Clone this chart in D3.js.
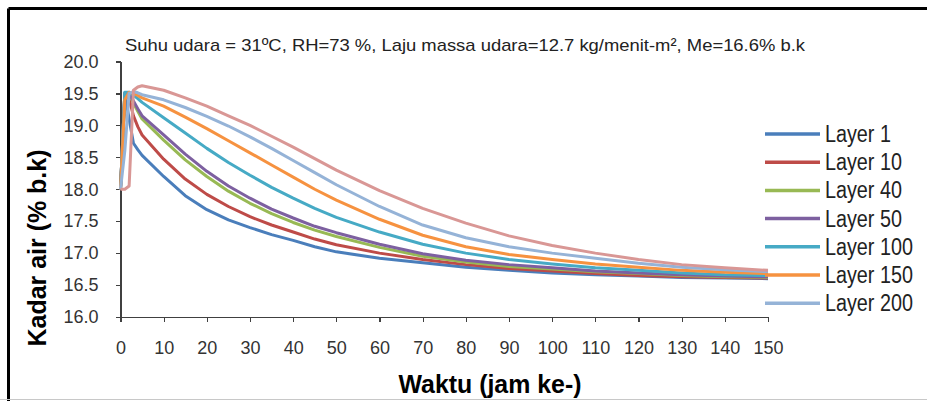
<!DOCTYPE html>
<html>
    <head>
        <meta charset="utf-8">
    </head>
<style>
body {
    margin: 0;
    background: white;
}
.axis path,
.axis line {
    fill: none;
    stroke: #404040;
    stroke-width: 1.2px;
    shape-rendering: crispEdges;
}
.axis text {
    font-family: "Liberation Sans", Arial, sans-serif;
    font-size: 18px;
    fill: #333;
}
</style>
<body>
<script src="https://d3js.org/d3.v7.min.js"></script>
<script>

// time in hours (x values shared by every layer)
var hours = [0, 1, 2, 3, 4, 5, 10, 15, 20, 25, 30, 35, 40, 45, 50, 60, 70, 80, 90, 100, 110, 120, 130, 140, 150];

// moisture content (% b.k) per layer
var layer1   = [18.0, 19.5, 19.1, 18.72, 18.62, 18.53, 18.2, 17.9, 17.68, 17.52, 17.4, 17.29, 17.2, 17.1, 17.02, 16.92, 16.85, 16.78, 16.73, 16.69, 16.66, 16.64, 16.62, 16.61, 16.6];
var layer10  = [18.0, 19.5, 19.42, 19.15, 18.98, 18.85, 18.47, 18.16, 17.92, 17.73, 17.57, 17.44, 17.33, 17.22, 17.13, 17.0, 16.9, 16.82, 16.76, 16.72, 16.68, 16.65, 16.63, 16.62, 16.61];
var layer40  = [18.0, 19.5, 19.5, 19.35, 19.22, 19.1, 18.77, 18.46, 18.2, 17.97, 17.78, 17.62, 17.48, 17.36, 17.26, 17.09, 16.95, 16.86, 16.79, 16.75, 16.71, 16.68, 16.65, 16.63, 16.62];
var layer50  = [18.0, 19.5, 19.5, 19.38, 19.26, 19.15, 18.85, 18.55, 18.28, 18.05, 17.86, 17.69, 17.55, 17.42, 17.32, 17.14, 16.99, 16.89, 16.82, 16.77, 16.72, 16.69, 16.66, 16.64, 16.63];
var layer100 = [18.0, 19.52, 19.52, 19.47, 19.42, 19.36, 19.12, 18.88, 18.64, 18.42, 18.22, 18.03, 17.86, 17.7, 17.56, 17.33, 17.14, 17.0, 16.9, 16.83, 16.77, 16.73, 16.69, 16.66, 16.65];
var layer150 = [18.0, 19.4, 19.52, 19.5, 19.47, 19.43, 19.3, 19.13, 18.95, 18.76, 18.57, 18.38, 18.19, 18.0, 17.83, 17.53, 17.28, 17.1, 16.98, 16.9, 16.83, 16.78, 16.73, 16.7, 16.68];
var layer200 = [18.0, 18.6, 19.5, 19.53, 19.51, 19.48, 19.4, 19.28, 19.14, 18.99, 18.82, 18.64, 18.45, 18.26, 18.07, 17.73, 17.44, 17.24, 17.1, 17.0, 16.92, 16.84, 16.78, 16.74, 16.71];
var layerTop = [18.0, 18.0, 18.05, 19.55, 19.6, 19.62, 19.55, 19.43, 19.3, 19.15, 19.0, 18.83, 18.66, 18.48, 18.3, 17.98, 17.7, 17.47, 17.27, 17.12, 17.0, 16.9, 16.82, 16.77, 16.73];

var seriesNames  = ["Layer 1", "Layer 10", "Layer 40", "Layer 50", "Layer 100", "Layer 150", "Layer 200", ""];
var seriesValues = [layer1, layer10, layer40, layer50, layer100, layer150, layer200, layerTop];
var colors = ["#4a7ebb", "#be4b48", "#98b954", "#7d60a0", "#46aac5", "#f69240", "#95b3d7", "#d99795"];

var xTicks = d3.range(0, 151, 10);
var yTicks = [16.0, 16.5, 17.0, 17.5, 18.0, 18.5, 19.0, 19.5, 20.0];

var w = 927,
    h = 401;

var svg = d3.select("body")
    .append("svg")
        .attr("width", w)
        .attr("height", h);

// chart frame
svg.append("rect")
    .attr("x", 0).attr("y", 0)
    .attr("width", w).attr("height", h)
    .attr("fill", "white");
svg.append("line")
    .attr("x1", 8.5).attr("y1", 8.5).attr("x2", w).attr("y2", 8.5)
    .attr("stroke", "black").attr("stroke-width", 3);
svg.append("line")
    .attr("x1", 8.5).attr("y1", 8.5).attr("x2", 8.5).attr("y2", h)
    .attr("stroke", "black").attr("stroke-width", 3);
svg.append("line")
    .attr("x1", 0).attr("y1", 399.5).attr("x2", w).attr("y2", 399.5)
    .attr("stroke", "#c8c8c8").attr("stroke-width", 1);

// scales
var xScale = d3.scaleLinear()
    .domain([0, 150])
    .range([120.5, 768]);

var yScale = d3.scaleLinear()
    .domain([16, 20])
    .range([317, 61.5]);

// axes
var xAxis = d3.axisBottom(xScale)
    .tickValues(xTicks)
    .tickSize(5)
    .tickSizeOuter(0)
    .tickPadding(19);

var yAxis = d3.axisLeft(yScale)
    .tickValues(yTicks)
    .tickSize(5)
    .tickSizeOuter(0)
    .tickPadding(17)
    .tickFormat(d3.format(".1f"));

svg.append("g")
    .attr("class", "axis")
    .attr("transform", "translate(0," + yScale(16) + ")")
    .call(xAxis);

svg.append("g")
    .attr("class", "axis")
    .attr("transform", "translate(" + xScale(0) + ",0)")
    .call(yAxis);

// lines
var line = d3.line()
    .x(function(d, i) { return xScale(hours[i]); })
    .y(function(d) { return yScale(d); });

svg.selectAll(".series")
    .data(seriesValues)
    .enter()
    .append("path")
        .attr("class", "series")
        .attr("d", line)
        .attr("fill", "none")
        .attr("stroke", function(d, i) { return colors[i]; })
        .attr("stroke-width", 3)
        .attr("stroke-linejoin", "round");

// legend (last series has no visible entry)
var legend = svg.selectAll(".legend")
    .data(seriesNames.slice(0, 7))
    .enter()
    .append("g")
        .attr("class", "legend")
        .attr("transform", function(d, i) { return "translate(765," + (134 + i * 28.2) + ")"; });

legend.append("line")
    .attr("x1", 0).attr("x2", 55)
    .attr("stroke", function(d, i) { return colors[i]; })
    .attr("stroke-width", 3.5);

legend.append("text")
    .attr("transform", "translate(60,8) scale(0.86,1)")
    .style("font-family", "'Liberation Sans', Arial, sans-serif")
    .style("font-size", "23px")
    .attr("fill", "#222")
    .text(function(d) { return d; });

// title
svg.append("text")
    .attr("x", 125)
    .attr("y", 51)
    .attr("textLength", 680)
    .attr("lengthAdjust", "spacingAndGlyphs")
    .style("font-family", "'Liberation Sans', Arial, sans-serif")
    .style("font-size", "17px")
    .attr("fill", "#222")
    .text("Suhu udara = 31ºC, RH=73 %, Laju massa udara=12.7 kg/menit-m², Me=16.6% b.k");

// axis titles
svg.append("text")
    .attr("transform", "translate(46,248) rotate(-90)")
    .attr("text-anchor", "middle")
    .attr("textLength", 197)
    .attr("lengthAdjust", "spacingAndGlyphs")
    .style("font-family", "'Liberation Sans', Arial, sans-serif")
    .style("font-size", "26px")
    .style("font-weight", "bold")
    .attr("fill", "black")
    .text("Kadar air (% b.k)");

svg.append("text")
    .attr("x", 490)
    .attr("y", 393)
    .attr("text-anchor", "middle")
    .attr("textLength", 183)
    .attr("lengthAdjust", "spacingAndGlyphs")
    .style("font-family", "'Liberation Sans', Arial, sans-serif")
    .style("font-size", "26px")
    .style("font-weight", "bold")
    .attr("fill", "black")
    .text("Waktu (jam ke-)");

</script>
</body>
</html>
